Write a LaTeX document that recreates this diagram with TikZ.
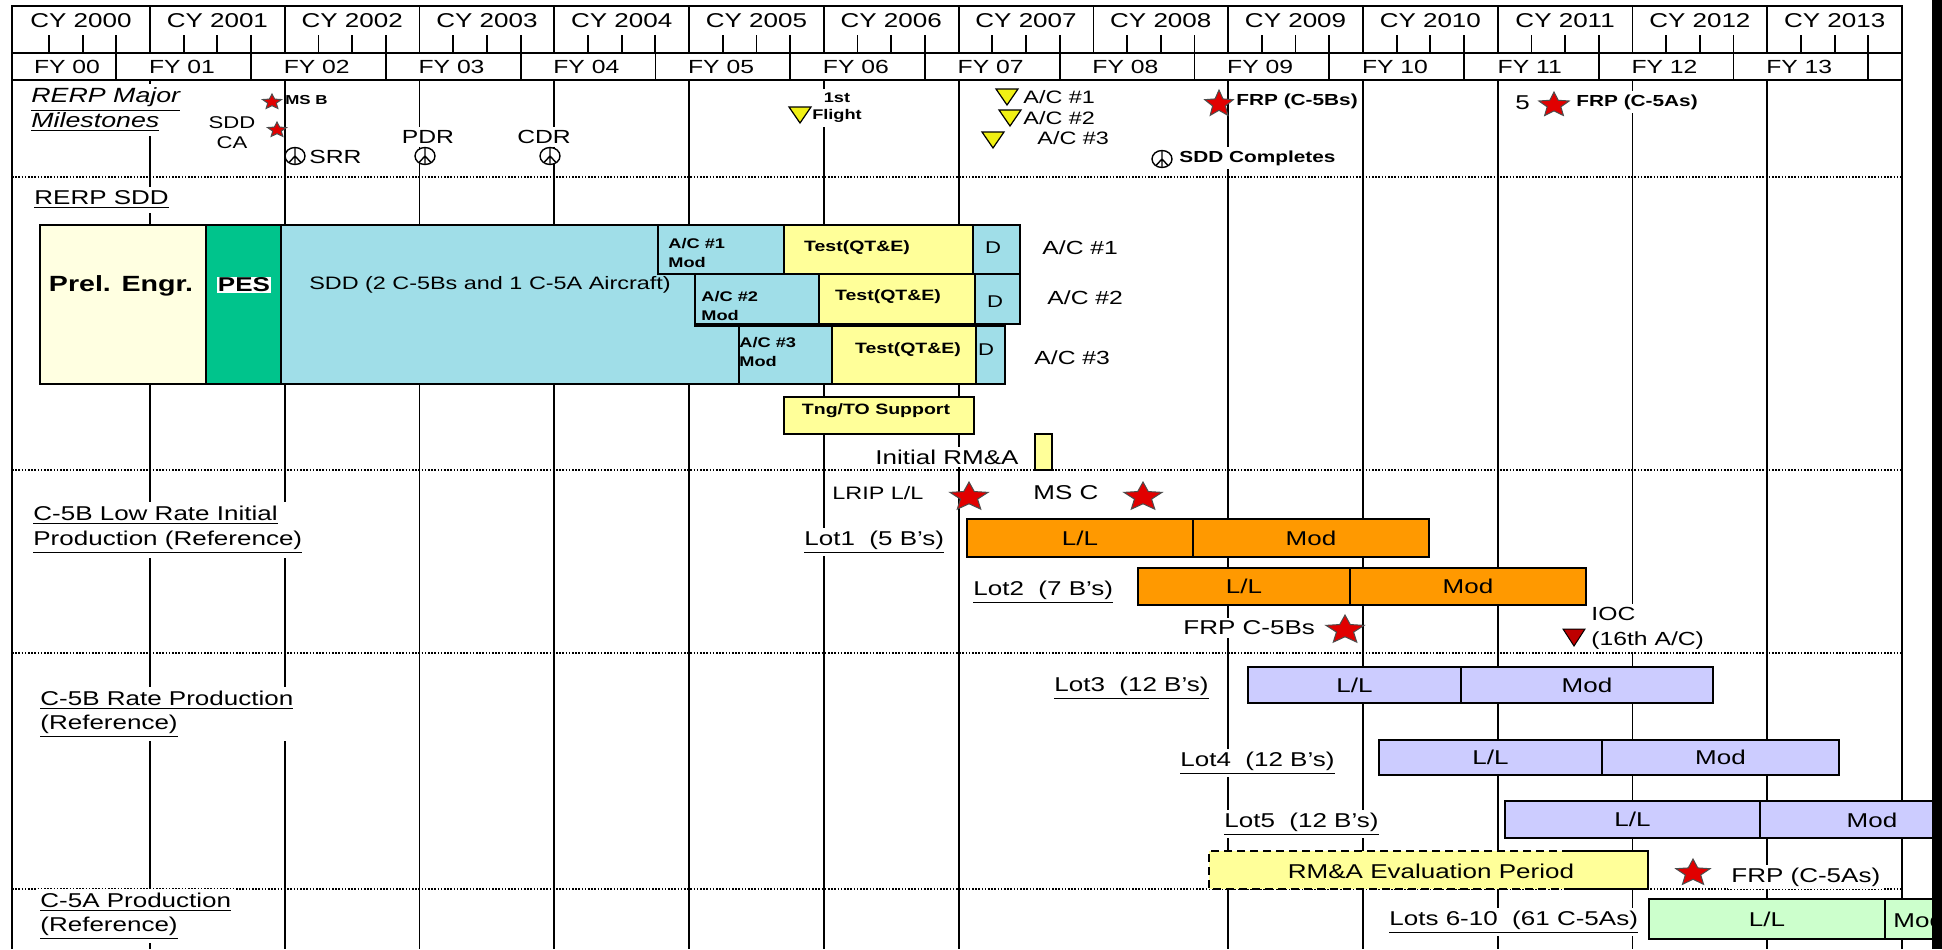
\documentclass[tikz,border=0pt]{standalone}
\usepackage{fontspec}
\setmainfont{Liberation Sans}[FakeStretch=1.3]
\definecolor{cream}{RGB}{255,255,225}
\definecolor{pesgreen}{RGB}{0,196,140}
\definecolor{sddcyan}{RGB}{160,222,232}
\definecolor{lyellow}{RGB}{255,255,153}
\definecolor{barorange}{RGB}{255,153,0}
\definecolor{lavender}{RGB}{204,204,255}
\definecolor{lgreen}{RGB}{204,255,204}
\definecolor{starred}{RGB}{225,0,0}
\definecolor{triyellow}{RGB}{240,240,20}
\definecolor{iocred}{RGB}{190,0,0}
\newcommand\ganttbox[7]{\node[#2, minimum width={(#5-#3)*0.5pt}, minimum height={(#6-#4)*0.5pt}] (#1) at ({(#3+#5)/2},{(#4+#6)/2}) {#7};}
\newcommand\downtri[3]{\draw[fill=#1, line width=0.6pt] ({#2-11},{#3-8}) -- ({#2+11},{#3-8}) -- (#2,{#3+8}) -- cycle;}
\tikzset{
  redstar/.pic={\filldraw[fill=starred, draw=black!70, line width=0.5pt]
     (-90:1) -- (-54:0.45) -- (-18:1) -- (18:0.45) -- (54:1) -- (90:0.45) -- (126:1) -- (162:0.45) -- (198:1) -- (234:0.45) -- cycle;},
  peace/.pic={\filldraw[fill=white, line width=0.7pt] (0,0) ellipse [x radius=10, y radius=8.5];
     \draw[line width=0.7pt] (0,-8.5) -- (0,8.5) (0,0) -- (-6,6.5) (0,0) -- (6,6.5);}
}
\begin{document}
\begin{tikzpicture}[x=0.5pt,y=-0.5pt,
  gline/.style={line width=0.9pt},
  dotl/.style={line width=0.8pt, dash pattern=on 0.8pt off 0.8pt},
  bx/.style={draw, line width=0.9pt, inner sep=0pt, font=\fontsize{10}{12}\selectfont},
  t9/.style={inner sep=1.5pt, font=\fontsize{9}{11}\selectfont},
  t10/.style={inner sep=1.5pt, font=\fontsize{10}{12}\selectfont},
  w10/.style={t10, fill=white},
  b7/.style={inner sep=1pt, font=\fontsize{7}{8.5}\selectfont\bfseries},
  hdr/.style={inner sep=0pt, font=\fontsize{10}{12}\selectfont},
  fyl/.style={inner sep=0pt, font=\fontsize{9.5}{11}\selectfont},
  two/.style={align=left, anchor=west, fill=white, inner sep=2pt, font=\fontsize{10}{12.5}\selectfont},
]
\useasboundingbox (0,0) rectangle (1942,949);
\fill[white] (0,0) rectangle (1942,949);

% ---------- header ----------
\draw[gline] (12,6) rectangle (1902,80);
\draw[gline] (12,53) -- (1902,53);
\foreach \i in {1,...,13}{\pgfmathsetmacro\xx{15.23+134.77*\i}\draw[gline] (\xx,6) -- (\xx,53);}
\foreach \i in {0,...,13}{\foreach \k in {1,2,3}{\pgfmathsetmacro\xx{15.23+134.77*\i+33.69*\k}\draw[gline] (\xx,35) -- (\xx,53);}}
\foreach \i in {1,...,14}{\pgfmathsetmacro\xx{15.23+134.77*\i-33.69}\draw[gline] (\xx,53) -- (\xx,80);}
\node[hdr] (cy0) at (81,21) {CY 2000};
\foreach \i in {1,...,13}{\pgfmathsetmacro\xx{15.23+134.77*\i+67.4}\pgfmathtruncatemacro\yy{2000+\i}\node[hdr] (cy\i) at (\xx,21) {CY \yy};}
\node[fyl] (fy0) at (67,67) {FY 00};
\foreach \i in {1,...,13}{\pgfmathsetmacro\xx{15.23+134.77*\i+32}\node[fyl] (fy\i) at (\xx,67) {FY \ifnum\i<10 0\fi\i};}

% ---------- grid ----------
\draw[gline] (12,80) -- (12,949);
\draw[gline] (1902,80) -- (1902,949);
\foreach \x in {150,284.8,419.5,554.3,689.1,823.9,958.6,1228.2,1362.9,1497.7,1632.5,1767.3}
  \draw[gline] (\x,80) -- (\x,949);
\foreach \y in {177,470,653,889} \draw[dotl] (12,\y) -- (1902,\y);

% ---------- milestones ----------
\node[two, font=\fontsize{10.3}{12.5}\selectfont\itshape] (rerpmm) at (27,110) {\underline{RERP Major}\\\underline{Milestones}};
\pic[xscale=10,yscale=8] (msbstar) at (272,102) {redstar};
\node[b7, anchor=west, font=\fontsize{6.5}{8}\selectfont\bfseries] (msb) at (283,100) {MS B};
\node[t9, align=center, fill=white, font=\fontsize{8.5}{10}\selectfont] (sddca) at (232,133) {SDD\\CA};
\pic[xscale=10,yscale=8] (castar) at (277,130) {redstar};
\node[t9, anchor=west, fill=white, font=\fontsize{9.5}{11}\selectfont] (srr) at (306,157) {SRR};
\pic (srric) at (295,156) {peace};
\node[t9, fill=white, font=\fontsize{9.5}{11}\selectfont] (pdr) at (428,137) {PDR};
\pic (pdric) at (425,156) {peace};
\node[t9, fill=white, font=\fontsize{9.5}{11}\selectfont] (cdr) at (544,137) {CDR};
\pic (cdric) at (550,156) {peace};
\node[b7, align=center, fill=white, inner sep=2pt] (flight) at (837,108) {1st\\Flight};
\downtri{triyellow}{800}{115}
\downtri{triyellow}{1007}{97}
\node[t9, anchor=west] (ac1m) at (1020,97) {A/C \#1};
\downtri{triyellow}{1010}{118}
\node[t9, anchor=west] (ac2m) at (1020,118) {A/C \#2};
\downtri{triyellow}{993}{140}
\node[t9, anchor=west] (ac3m) at (1034,138) {A/C \#3};
\pic[xscale=15,yscale=14] (frpbstar) at (1219,104) {redstar};
\node[b7, anchor=west, font=\fontsize{8}{9}\selectfont\bfseries] (frpb) at (1234,101) {FRP (C-5Bs)};
\node[b7, anchor=west, fill=white, inner sep=2pt, font=\fontsize{8}{9}\selectfont\bfseries] (sddc) at (1175,158) {SDD Completes};
\pic (sddcic) at (1162,159) {peace};
\node[t10, anchor=west] (five) at (1512,103) {5};
\pic[xscale=16,yscale=13] (frpastar) at (1554,105) {redstar};
\node[b7, anchor=west, fill=white, font=\fontsize{8}{9}\selectfont\bfseries, inner sep=2pt] (frpa) at (1572,102) {FRP (C-5As)};

% ---------- RERP SDD ----------
\node[w10, anchor=west, inner sep=2pt] (rerpsdd) at (30,200) {\underline{RERP SDD}};
\ganttbox{prel}{bx, fill=cream}{40}{225}{206}{384}{}
\node[inner sep=0pt, font=\fontsize{11}{13}\selectfont\bfseries] (prelt) at (121,286) {Prel. Engr.};
\ganttbox{pes}{bx, fill=pesgreen}{206}{225}{281}{384}{}
\node[fill=white, inner sep=0.5pt, font=\fontsize{10}{12}\selectfont\bfseries] (pest) at (244,285) {PES};
\draw[gline, fill=sddcyan] (281,225) -- (658,225) -- (658,274) -- (695,274) -- (695,326) -- (739,326) -- (739,384) -- (281,384) -- cycle;
\node[t9] (sddt) at (490,285) {SDD (2 C-5Bs and 1 C-5A Aircraft)};
% row 1
\ganttbox{mod1}{bx, fill=sddcyan}{658}{225}{784}{274}{}
\ganttbox{test1}{bx, fill=lyellow}{784}{225}{973}{274}{}
\ganttbox{d1}{bx, fill=sddcyan}{973}{225}{1020}{274}{}
% row 2
\ganttbox{mod2}{bx, fill=sddcyan}{695}{274}{819}{324}{}
\ganttbox{test2}{bx, fill=lyellow}{819}{274}{975}{324}{}
\ganttbox{d2}{bx, fill=sddcyan}{975}{274}{1020}{324}{}
% row 3
\ganttbox{mod3}{bx, fill=sddcyan}{739}{326}{832}{384}{}
\ganttbox{test3}{bx, fill=lyellow}{832}{326}{976}{384}{}
\ganttbox{d3}{bx, fill=sddcyan}{976}{326}{1005}{384}{}
\node[b7, anchor=west, align=left, font=\fontsize{7}{9.5}\selectfont\bfseries] (mod1t) at (666,253) {A/C \#1\\Mod};
\node[b7, anchor=west, align=left, font=\fontsize{7}{9.5}\selectfont\bfseries] (mod2t) at (699,306) {A/C \#2\\Mod};
\node[b7, anchor=west, align=left, font=\fontsize{7}{9.5}\selectfont\bfseries] (mod3t) at (737,352) {A/C \#3\\Mod};
\node[b7, font=\fontsize{7.5}{9}\selectfont\bfseries] (test1t) at (857,248) {Test(QT\&E)};
\node[b7, font=\fontsize{7.5}{9}\selectfont\bfseries] (test2t) at (888,297) {Test(QT\&E)};
\node[b7, font=\fontsize{7.5}{9}\selectfont\bfseries] (test3t) at (908,350) {Test(QT\&E)};
\node[t9, font=\fontsize{8.5}{10}\selectfont] (d1t) at (993,248) {D};
\node[t9, font=\fontsize{8.5}{10}\selectfont] (d2t) at (995,302) {D};
\node[t9, font=\fontsize{8.5}{10}\selectfont] (d3t) at (986,350) {D};
\node[t10, anchor=west, font=\fontsize{9.5}{11}\selectfont] (ac1r) at (1039,248) {A/C \#1};
\node[t10, anchor=west, font=\fontsize{9.5}{11}\selectfont] (ac2r) at (1044,298) {A/C \#2};
\node[t10, anchor=west, font=\fontsize{9.5}{11}\selectfont] (ac3r) at (1031,358) {A/C \#3};
\ganttbox{tng}{bx, fill=lyellow}{784}{397}{974}{434}{}
\node[b7, font=\fontsize{7.5}{9}\selectfont\bfseries] (tngt) at (876,411) {Tng/TO Support};
\node[w10] (initt) at (947,457) {Initial RM\&A};
\ganttbox{init}{bx, fill=lyellow}{1035}{434}{1052}{470}{}

% ---------- C-5B LRIP ----------
\node[two] (lriplab) at (29,530) {\underline{C-5B Low Rate Initial}\\\underline{Production (Reference)}};
\node[w10, anchor=west, font=\fontsize{9}{11}\selectfont] (lripll) at (829,493) {LRIP L/L};
\pic[xscale=20,yscale=15] (lripstar) at (969,497) {redstar};
\node[t10, anchor=west] (msc) at (1030,493) {MS C};
\pic[xscale=20,yscale=15] (mscstar) at (1143,497) {redstar};
\node[w10, anchor=west] (lot1l) at (801,542) {\underline{Lot1\ \ (5 B’s)}};
\ganttbox{lot1a}{bx, fill=barorange}{967}{519}{1193}{557}{L/L}
\ganttbox{lot1b}{bx, fill=barorange}{1193}{519}{1429}{557}{Mod}
\node[w10, anchor=west] (lot2l) at (970,592) {\underline{Lot2\ \ (7 B’s)}};
\ganttbox{lot2a}{bx, fill=barorange}{1138}{568}{1350}{605}{L/L}
\ganttbox{lot2b}{bx, fill=barorange}{1350}{568}{1586}{605}{Mod}
\node[w10, anchor=west] (frpc5b) at (1180,628) {FRP C-5Bs};
\pic[xscale=20,yscale=15] (frpc5bstar) at (1345,630) {redstar};
\node[two, inner sep=1.5pt, font=\fontsize{9.5}{12.5}\selectfont] (ioc) at (1588,628) {IOC\\(16th A/C)};
\draw[fill=iocred, line width=0.5pt] (1563,629) -- (1585,629) -- (1574,646) -- cycle;

% ---------- C-5B Rate production ----------
\node[two, font=\fontsize{10}{12}\selectfont] (ratelab) at (36,714) {\underline{C-5B Rate Production}\\\underline{(Reference)}};
\node[w10, anchor=west] (lot3l) at (1051,688) {\underline{Lot3\ \ (12 B’s)}};
\ganttbox{lot3a}{bx, fill=lavender}{1248}{667}{1461}{703}{L/L}
\ganttbox{lot3b}{bx, fill=lavender}{1461}{667}{1713}{703}{Mod}
\node[w10, anchor=west] (lot4l) at (1177,763) {\underline{Lot4\ \ (12 B’s)}};
\ganttbox{lot4a}{bx, fill=lavender}{1379}{740}{1602}{775}{L/L}
\ganttbox{lot4b}{bx, fill=lavender}{1602}{740}{1839}{775}{Mod}
\node[w10, anchor=west] (lot5l) at (1221,824) {\underline{Lot5\ \ (12 B’s)}};
\ganttbox{lot5a}{bx, fill=lavender}{1505}{801}{1760}{838}{L/L}
\ganttbox{lot5b}{bx, fill=lavender}{1760}{801}{1960}{838}{}
\node[t10] (lot5bt) at (1872,820) {Mod};
\fill[lyellow] (1209,851) rectangle (1648,889);
\draw[line width=0.9pt, dash pattern=on 4pt off 2.5pt] (1570,851) -- (1209,851) -- (1209,889) -- (1570,889);
\draw[line width=0.9pt] (1570,851) -- (1648,851) -- (1648,889) -- (1570,889);
\node[t10] (rmaeval) at (1431,871) {RM\&A Evaluation Period};
\pic[xscale=18,yscale=14] (frpc5astar) at (1693,873) {redstar};
\node[w10, anchor=west] (frpc5a) at (1728,877) {FRP (C-5As)};

% ---------- C-5A production ----------
\node[two, font=\fontsize{10}{12}\selectfont] (c5alab) at (36,916) {\underline{C-5A Production}\\\underline{(Reference)}};
\node[w10, anchor=west] (lots610) at (1386,922) {\underline{Lots 6-10\ \ (61 C-5As)}};
\ganttbox{c5aa}{bx, fill=lgreen}{1649}{899}{1885}{939}{L/L}
\ganttbox{c5ab}{bx, fill=lgreen}{1885}{899}{1960}{939}{}
\node[t10, anchor=west] (c5abt) at (1890,920) {Mod};

% ---------- right black edge ----------
\fill[black] (1932,0) rectangle (1942,949);
\end{tikzpicture}
\end{document}
